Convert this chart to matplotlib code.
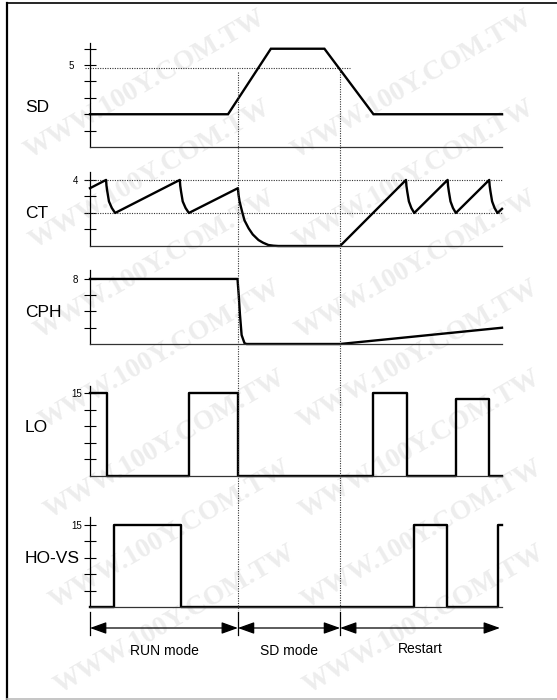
import matplotlib.pyplot as plt
from matplotlib.lines import Line2D

plt.rcParams['font.family'] = ['Liberation Sans', 'DejaVu Sans']

# time axis in arbitrary units (0 .. 100)
mode_bounds = [0, 35.9, 60.7, 99.5]
mode_names = ['RUN mode', 'SD mode', 'Restart']

# SD
sd_t = [0, 33.5, 43.9, 56.9, 68.8, 100]
sd_v = [2, 2, 6, 6, 2, 2]
sd_ref = 4.8

# CT (sawtooth with discharges)
ct_t = [0, 3.9, 4.0, 4.2, 4.6, 5.3, 6.1,
        21.8, 21.9, 22.1, 22.5, 23.2, 24.0,
        35.9, 36.05, 36.3, 36.9, 37.5, 38.5, 39.5, 40.9, 42.0, 43.3, 44.5, 45.7,
        60.7, 76.7, 76.8, 77.0, 77.4, 78.0, 78.7,
        86.8, 86.9, 87.1, 87.5, 88.1, 88.8,
        96.9, 97.0, 97.2, 97.6, 98.2, 98.9, 100]
ct_v = [3.5, 4.0, 3.65, 3.3, 2.7, 2.3, 2.0,
        4.0, 3.65, 3.3, 2.7, 2.3, 2.0,
        3.5, 3.1, 2.7, 2.1, 1.55, 1.07, 0.7, 0.36, 0.2, 0.06, 0.02, 0.0,
        0.0, 4.0, 3.65, 3.3, 2.7, 2.3, 2.0,
        4.0, 3.65, 3.3, 2.7, 2.3, 2.0,
        4.0, 3.65, 3.3, 2.7, 2.3, 2.0, 2.25]
ct_refs = [4, 2]

# CPH
cph_t = [0, 35.8, 36.1, 36.4, 36.8, 37.5, 38.0, 60.7, 100]
cph_v = [8, 8, 6.0, 3.6, 1.1, 0.1, 0, 0, 2.0]

# LO (step edges / levels)
lo_t = [0, 4.05, 24.0, 35.9, 68.8, 76.9, 88.8, 96.8, 100]
lo_v = [15, 0, 15, 0, 15, 0, 14, 0, 0]

# HO-VS
ho_t = [0, 5.9, 22.0, 78.7, 86.7, 99.0, 100]
ho_v = [0, 15, 0, 15, 0, 15, 15]

W, H = 557, 700
fig = plt.figure(figsize=(W / 100, H / 100), dpi=100)


def add_ax(left, top, right, bottom):
    return fig.add_axes([left / W, 1 - bottom / H, (right - left) / W, (bottom - top) / H])


# watermark (faint, kept inside the page)
wm_pos = [(145, 85), (150, 175), (155, 265), (160, 355), (165, 445), (170, 535), (175, 620),
          (412, 85), (414, 175), (416, 265), (418, 355), (420, 445), (422, 535), (424, 620)]
for x, y in wm_pos:
    fig.text(x / W, 1 - y / H, 'WWW.100Y.COM.TW', rotation=30, ha='center', va='center',
             fontsize=20, fontweight='bold', family='Liberation Serif', color='#ededed', zorder=-5)

# panels: name, top px, bottom px, ymax, ticks, labelled tick, pad, label baseline px
panels = [
    ('SD', 43, 147, 6.35, [1, 2, 3, 4, 5, 6], 5, 7, 112),
    ('CT', 172, 246, 4.48, [1, 2, 3, 4], 4, 4, 218),
    ('CPH', 270, 344, 9.1, [2, 4, 6, 8], 8, 4, 317),
    ('LO', 386, 476, 16.3, [3, 6, 9, 12, 15], 15, 1, 432),
    ('HO-VS', 517, 607, 16.46, [3, 6, 9, 12, 15], 15, 1, 563),
]
axes = {}
for name, top, bot, ymax, ticks, lab, pad, lab_y in panels:
    ax = add_ax(90, top, 502, bot)
    ax.set_facecolor('none')
    ax.set_xlim(0, 100)
    ax.set_ylim(0, ymax)
    ax.set_xticks([])
    ax.set_yticks(ticks)
    ax.set_yticklabels([str(t) if t == lab else '' for t in ticks])
    ax.tick_params(axis='y', direction='inout', length=9, width=0.8, labelsize=7, pad=pad)
    for s in ['top', 'right']:
        ax.spines[s].set_visible(False)
    ax.spines['left'].set_linewidth(0.9)
    ax.spines['bottom'].set_linewidth(0.9)
    ax.spines['bottom'].set_color('#333333')
    fig.text(25 / W, 1 - lab_y / H, name, fontsize=12.5, ha='left', va='baseline')
    axes[name] = ax

lw = 1.7
dot = dict(color='#333333', lw=0.8, linestyle=(0, (1, 1.2)), clip_on=False)

a = axes['SD']
a.plot([-1.2, 63.1], [sd_ref, sd_ref], **dot)
a.plot(sd_t, sd_v, color='k', lw=lw, clip_on=False, solid_joinstyle='miter')

a = axes['CT']
for r in ct_refs:
    a.plot([-1.2, 100], [r, r], **dot)
a.plot(ct_t, ct_v, color='k', lw=lw, clip_on=False)

a = axes['CPH']
a.plot(cph_t, cph_v, color='k', lw=lw, clip_on=False)

axes['LO'].plot(lo_t, lo_v, drawstyle='steps-post', color='k', lw=lw, clip_on=False)
axes['HO-VS'].plot(ho_t, ho_v, drawstyle='steps-post', color='k', lw=lw, clip_on=False)

# overlay: mode markers, dotted guides, arrows
ov = add_ax(90, 0, 502, 700)
ov.set_xlim(0, 100)
ov.set_ylim(700, 0)
ov.axis('off')
ov.set_facecolor('none')
for b, y0 in zip(mode_bounds[1:3], [72, 69]):
    ov.plot([b, b], [y0, 610], **dot)
for b in mode_bounds[:3]:
    ov.plot([b, b], [612, 635], color='k', lw=0.9, clip_on=False)
for i, name in enumerate(mode_names):
    b0, b1 = mode_bounds[i], mode_bounds[i + 1]
    ov.annotate('', xy=(b1, 628), xytext=(b0, 628),
                arrowprops=dict(arrowstyle='<|-|>,head_length=1.0,head_width=0.36',
                                color='k', lw=0.9, shrinkA=0, shrinkB=0))
    ov.text((b0 + b1) / 2, 655 if i < 2 else 653, name, ha='center', va='baseline', fontsize=10)

# frame
fig.add_artist(Line2D([7 / W, 7 / W], [1 - 3 / H, 1 - 699 / H], transform=fig.transFigure, color='k', lw=1.6))
fig.add_artist(Line2D([7 / W, 1], [1 - 3 / H, 1 - 3 / H], transform=fig.transFigure, color='k', lw=1.2))
fig.add_artist(Line2D([7 / W, 1], [1 - 699 / H, 1 - 699 / H], transform=fig.transFigure, color='#bbbbbb', lw=1.2))

fig.savefig('out.png', dpi=100)
